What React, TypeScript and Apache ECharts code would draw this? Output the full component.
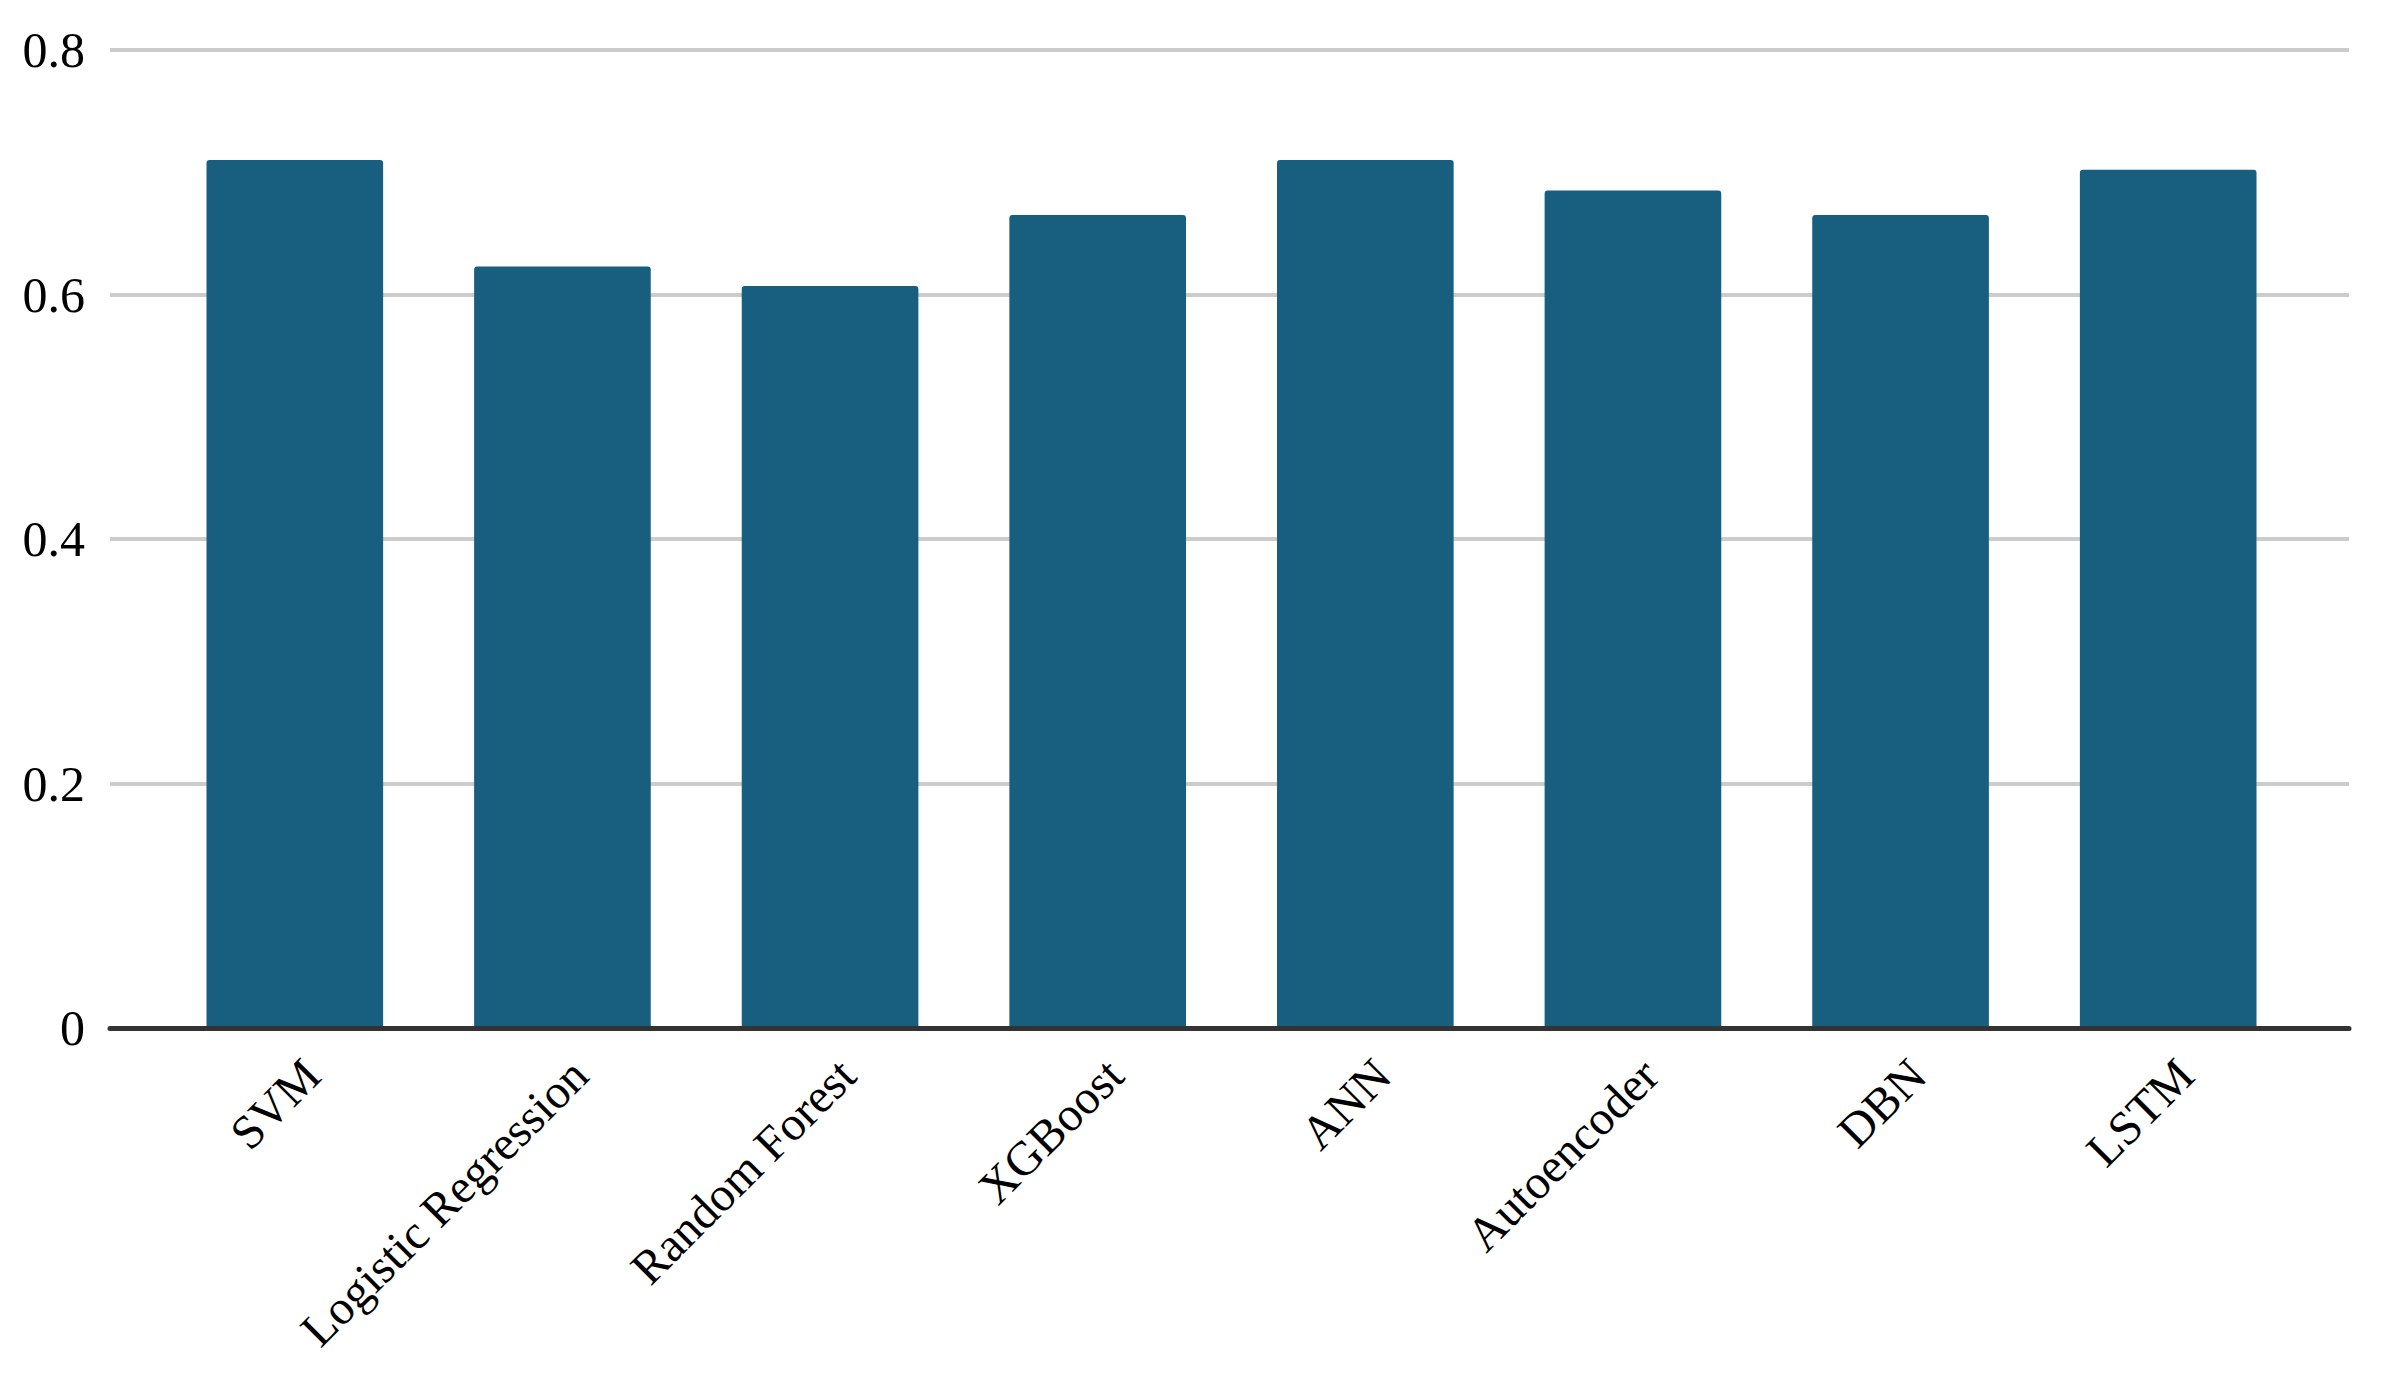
import React, { useEffect, useRef } from "react";
import * as echarts from "echarts";

const categories = [
  "SVM",
  "Logistic Regression",
  "Random Forest",
  "XGBoost",
  "ANN",
  "Autoencoder",
  "DBN",
  "LSTM",
];
const values = [0.71, 0.623, 0.607, 0.665, 0.71, 0.685, 0.665, 0.702];
const yMin = 0;
const yMax = 0.8;
const yStep = 0.2;

export default function App() {
  const ref = useRef<HTMLDivElement>(null);
  useEffect(() => {
    if (!ref.current) return;
    const chart = echarts.init(ref.current, undefined, { renderer: "svg" });
    const font = "'Liberation Serif', 'Times New Roman', serif";
    chart.setOption({
      animation: false,
      backgroundColor: "#ffffff",
      grid: [
        { left: 110, right: 32, top: 50, bottom: 355, containLabel: false },
        { left: 161, right: 79, top: 50, bottom: 355, containLabel: false },
      ],
      xAxis: [
        {
          type: "category",
          gridIndex: 0,
          data: categories,
          z: 5,
          axisLine: { show: true, lineStyle: { color: "#333333", width: 5 } },
          axisTick: { show: false },
          axisLabel: { show: false },
          splitLine: { show: false },
        },
        {
          type: "category",
          gridIndex: 1,
          data: categories,
          axisLine: { show: false },
          axisTick: { show: false },
          axisLabel: {
            rotate: 45,
            margin: 22,
            verticalAlign: "top",
            color: "#000000",
            fontFamily: font,
            fontSize: 48,
            interval: 0,
          },
        },
      ],
      yAxis: [
        {
          type: "value",
          gridIndex: 0,
          min: yMin,
          max: yMax,
          interval: yStep,
          axisLine: { show: false },
          axisTick: { show: false },
          axisLabel: {
            margin: 25,
            color: "#000000",
            fontFamily: font,
            fontSize: 50,
          },
          splitLine: { show: true, lineStyle: { color: "#cccccc", width: 4 } },
        },
        {
          type: "value",
          gridIndex: 1,
          min: yMin,
          max: yMax,
          interval: yStep,
          show: false,
          splitLine: { show: false },
        },
      ],
      series: [
        {
          type: "bar",
          xAxisIndex: 1,
          yAxisIndex: 1,
          data: values,
          barWidth: "66%",
          itemStyle: { color: "#175e7f", borderRadius: [3, 3, 0, 0] },
        },
      ],
    });
    return () => chart.dispose();
  }, []);
  return (
    <div
      ref={ref}
      style={{ position: "fixed", left: 0, top: 0, width: 2381, height: 1383 }}
    />
  );
}
